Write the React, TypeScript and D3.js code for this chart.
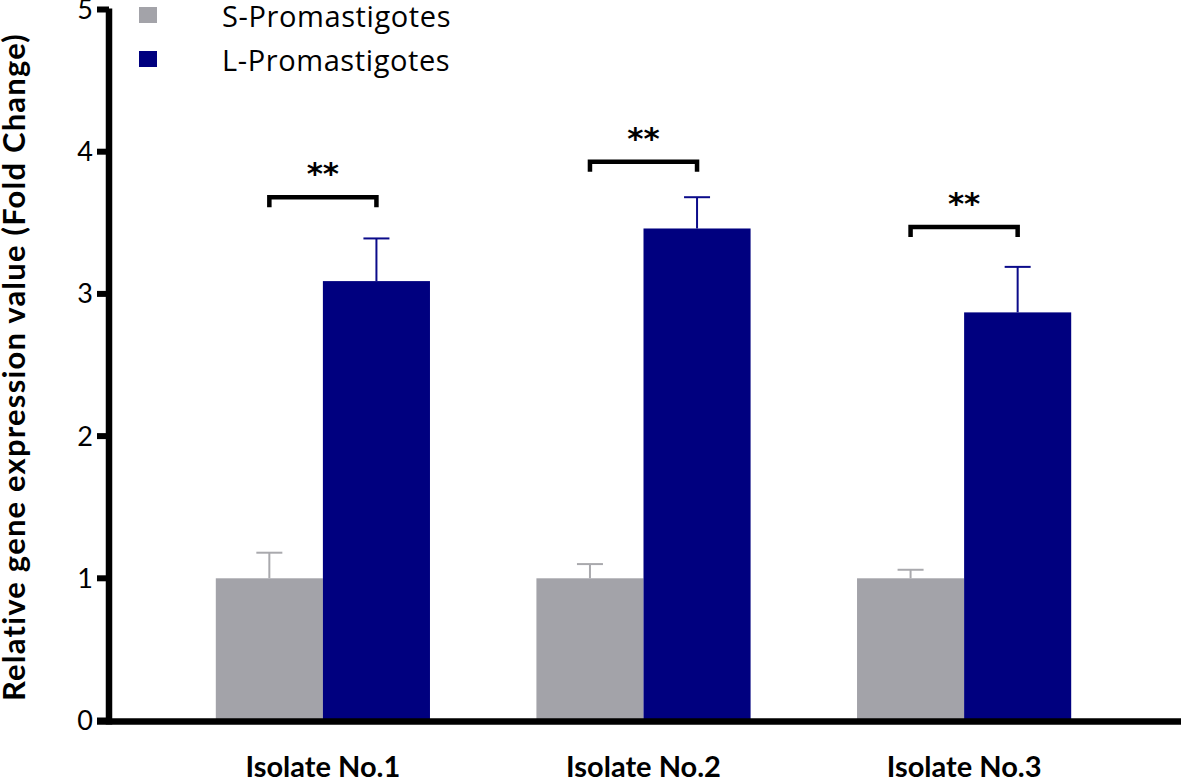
import React from "react";
import * as d3 from "d3";

const isolates = ["Isolate No.1", "Isolate No.2", "Isolate No.3"];
const seriesNames = ["S-Promastigotes", "L-Promastigotes"];
const sMeans = [1.0, 1.0, 1.0];
const sErrTops = [1.18, 1.1, 1.06];
const lMeans = [3.09, 3.46, 2.87];
const lErrTops = [3.39, 3.68, 3.19];
const bracketLevels = [3.68, 3.93, 3.47];
const sigLabels = ["**", "**", "**"];
const yTicks = [0, 1, 2, 3, 4, 5];
const yTitle = "Relative gene expression value (Fold Change)";

const colors = ["#a3a3a9", "#00007f"];
const errColors = ["#a9a9ad", "#0b0b8a"];
const FONT = "Lato, 'Open Sans', sans-serif";

export default function App() {
  const W = 1181;
  const H = 778;
  const x = d3
    .scaleBand<string>()
    .domain(isolates)
    .range([110, 1177])
    .paddingInner(0.332)
    .paddingOuter(0.33);
  const xs = d3
    .scaleBand<string>()
    .domain(seriesNames)
    .range([0, x.bandwidth()])
    .padding(0);
  const y = d3.scaleLinear().domain([0, 5]).range([720.5, 9.5]);

  const means = [sMeans, lMeans];
  const errs = [sErrTops, lErrTops];
  const axisX = 109;
  const bw = xs.bandwidth();

  return (
    <svg
      width={W}
      height={H}
      style={{ position: "absolute", left: 0, top: 0, display: "block", background: "#fff" }}
      fontFamily={FONT}
    >
      {/* bars */}
      {isolates.map((iso, i) =>
        seriesNames.map((s, k) => {
          const bx = (x(iso) as number) + (xs(s) as number);
          const v = means[k][i];
          return (
            <rect
              key={iso + s}
              x={bx}
              y={y(v)}
              width={bw}
              height={y(0) - y(v)}
              fill={colors[k]}
            />
          );
        })
      )}
      {/* error bars */}
      {isolates.map((iso, i) =>
        seriesNames.map((s, k) => {
          const cx = (x(iso) as number) + (xs(s) as number) + bw / 2;
          return (
            <g key={"e" + iso + s} stroke={errColors[k]} strokeWidth={2}>
              <line x1={cx} x2={cx} y1={y(means[k][i])} y2={y(errs[k][i])} />
              <line x1={cx - 13} x2={cx + 13} y1={y(errs[k][i])} y2={y(errs[k][i])} />
            </g>
          );
        })
      )}
      {/* significance brackets */}
      {isolates.map((iso, i) => {
        const x1 = (x(iso) as number) + (xs(seriesNames[0]) as number) + bw / 2;
        const x2 = (x(iso) as number) + (xs(seriesNames[1]) as number) + bw / 2;
        const by = y(bracketLevels[i]);
        return (
          <g key={"b" + iso}>
            <path
              d={`M${x1},${by + 10}V${by}H${x2}V${by + 10}`}
              fill="none"
              stroke="#000"
              strokeWidth={4.5}
            />
            <text
              x={(x1 + x2) / 2}
              y={by - 13}
              textAnchor="middle"
              fontSize={31}
              fontWeight="bold"
              fontFamily="'DejaVu Sans', sans-serif"
              fill="#000"
            >
              {sigLabels[i]}
            </text>
          </g>
        );
      })}
      {/* axes */}
      <line x1={97} x2={W} y1={y(0) + 1} y2={y(0) + 1} stroke="#000" strokeWidth={6.5} />
      <line x1={axisX} x2={axisX} y1={y(5) - 1} y2={y(0) + 4} stroke="#000" strokeWidth={6.5} />
      {yTicks.map((t) => (
        <g key={"t" + t}>
          <line x1={97} x2={axisX} y1={y(t)} y2={y(t)} stroke="#000" strokeWidth={6} />
          <text
            x={93}
            y={y(t)}
            dy="0.35em"
            textAnchor="end"
            fontSize={27}
            fill="#000"
          >
            {t}
          </text>
        </g>
      ))}
      {isolates.map((iso) => (
        <text
          key={"xl" + iso}
          x={(x(iso) as number) + x.bandwidth() / 2}
          y={777}
          textAnchor="middle"
          fontSize={29}
          fontWeight="bold"
          fill="#000"
        >
          {iso}
        </text>
      ))}
      <text
        transform={`translate(25,${367}) rotate(-90)`}
        textAnchor="middle"
        fontSize={31}
        fontWeight="bold"
        letterSpacing={1.2}
        fill="#000"
      >
        {yTitle}
      </text>
      {/* legend */}
      {seriesNames.map((s, k) => (
        <g key={"lg" + s} transform={`translate(0,${k * 44})`}>
          <rect x={139} y={7} width={18} height={16} fill={colors[k]} />
          <text
            x={222}
            y={27}
            fontSize={29}
            letterSpacing={0.6}
            fontFamily="'Open Sans', sans-serif"
            fill="#000"
          >
            {s}
          </text>
        </g>
      ))}
    </svg>
  );
}
